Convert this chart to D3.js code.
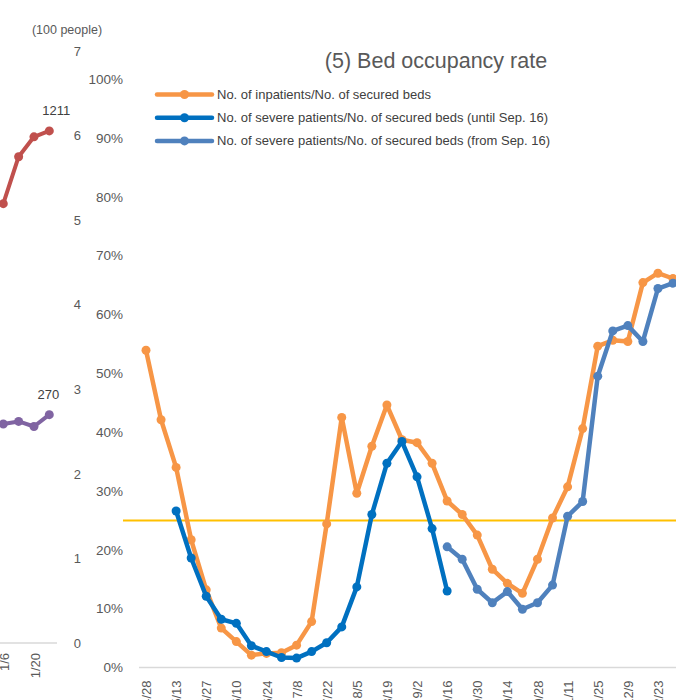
<!DOCTYPE html>
<html>
<head>
<meta charset="utf-8">
<script src="https://cdn.jsdelivr.net/npm/d3@7"></script>
<style>
  body { margin: 0; background: #fff; }
  svg { display: block; font-family: "Liberation Sans", Arial, sans-serif; }
</style>
</head>
<body>
<div id="chart"></div>
<script>
// left (cut off) chart: last weeks only
var leftWeeks = ["1/6", "1/13", "1/20", "1/27"];
var leftTicks = ["1/6", "1/20"];
var redValues = [10.39, 11.5, 11.97, 12.11];   // hundreds of people, secondary axis 0-14
var purpleValues = [2.59, 2.62, 2.56, 2.70];   // hundreds of people, axis 0-7

// bed occupancy chart
var weeks = ["4/28", "5/6", "5/13", "5/20", "5/27", "6/3", "6/10", "6/17", "6/24", "7/1",
             "7/8", "7/15", "7/22", "7/29", "8/5", "8/12", "8/19", "8/26", "9/2", "9/9",
             "9/16", "9/23", "9/30", "10/7", "10/14", "10/21", "10/28", "11/4", "11/11", "11/18",
             "11/25", "12/2", "12/9", "12/16", "12/23", "12/30"];
var tickWeeks = weeks.filter(function(d, i) { return i % 2 === 0; });

var inpatients = [53.9, 42.1, 34.0, 21.7, 13.2, 6.7, 4.4, 2.1, 2.4, 2.5,
                  3.8, 7.8, 24.4, 42.5, 29.6, 37.6, 44.6, 38.7, 38.2, 34.7,
                  28.3, 26.0, 22.5, 16.7, 14.3, 12.6, 18.4, 25.4, 30.7, 40.6,
                  54.6, 55.6, 55.4, 65.4, 67.0, 66.1];
var severeOld = [null, null, 26.6, 18.6, 12.1, 8.2, 7.5, 3.7, 2.7, 1.7,
                 1.6, 2.7, 4.2, 6.9, 13.7, 26.0, 34.7, 38.4, 32.4, 23.6,
                 13.0];
var severeNew = [{i: 20, v: 20.5}, {i: 21, v: 18.4}, {i: 22, v: 13.3}, {i: 23, v: 11.0},
                 {i: 24, v: 12.9}, {i: 25, v: 9.9}, {i: 26, v: 11.0}, {i: 27, v: 14.0},
                 {i: 28, v: 25.7}, {i: 29, v: 28.2}, {i: 30, v: 49.5}, {i: 31, v: 57.2},
                 {i: 32, v: 58.1}, {i: 33, v: 55.4}, {i: 34, v: 64.4}, {i: 35, v: 65.3}];
var yTicks = [0, 10, 20, 30, 40, 50, 60, 70, 80, 90, 100];
var threshold = 25;

var seriesNames = ["No. of inpatients/No. of secured beds",
                   "No. of severe patients/No. of secured beds (until Sep. 16)",
                   "No. of severe patients/No. of secured beds (from Sep. 16)"];
var seriesColors = ["#F79646", "#0070C0", "#4F81BD"];

var W = 676, H = 700;
var svg = d3.select("#chart").append("svg")
    .attr("width", W)
    .attr("height", H);

// ---------- left chart ----------
var xL = d3.scalePoint().domain(leftWeeks).range([3.3, 49.3]);
var yL = d3.scaleLinear().domain([0, 7]).range([643, 51]);
var yL2 = d3.scaleLinear().domain([0, 14]).range([643, 51]);

svg.append("line")
    .attr("x1", 0).attr("x2", 57)
    .attr("y1", yL(0)).attr("y2", yL(0))
    .attr("stroke", "#d9d9d9").attr("stroke-width", 1.5);

svg.selectAll(".lt")
    .data(leftTicks)
  .enter().append("text")
    .attr("transform", function(d) { return "translate(" + (xL(d) + 1.5) + "," + (yL(0) + 10) + ") rotate(-90)"; })
    .attr("text-anchor", "end")
    .attr("dy", "0.35em")
    .attr("font-size", 13)
    .attr("fill", "#595959")
    .text(function(d) { return d; });

var gLeftAxis = svg.append("g")
    .attr("transform", "translate(81,0)")
    .call(d3.axisLeft(yL).ticks(7).tickSize(0).tickPadding(0));
gLeftAxis.select(".domain").remove();
gLeftAxis.selectAll("text")
    .attr("font-size", 13)
    .attr("font-family", "Liberation Sans, Arial, sans-serif")
    .attr("fill", "#595959");

svg.append("text")
    .attr("x", 67).attr("y", 34)
    .attr("text-anchor", "middle")
    .attr("font-size", 12.5)
    .attr("fill", "#595959")
    .text("(100 people)");

function drawLeftSeries(values, scale, color, label, dx) {
  var line = d3.line()
      .x(function(d, i) { return xL(leftWeeks[i]); })
      .y(function(d) { return scale(d); });
  svg.append("path")
      .datum(values)
      .attr("d", line)
      .attr("fill", "none")
      .attr("stroke", color)
      .attr("stroke-width", 4)
      .attr("stroke-linejoin", "round");
  svg.selectAll(null)
      .data(values)
    .enter().append("circle")
      .attr("cx", function(d, i) { return xL(leftWeeks[i]); })
      .attr("cy", function(d) { return scale(d); })
      .attr("r", 4.5)
      .attr("fill", color);
  var last = values.length - 1;
  svg.append("text")
      .attr("x", xL(leftWeeks[last]) + dx)
      .attr("y", scale(values[last]) - 16)
      .attr("text-anchor", "middle")
      .attr("font-size", 13)
      .attr("fill", "#404040")
      .text(label);
}
drawLeftSeries(redValues, yL2, "#C0504D", "1211", 7);
drawLeftSeries(purpleValues, yL, "#8064A2", "270", -1);

// ---------- bed occupancy chart ----------
var x = d3.scalePoint().domain(weeks).range([146, 673]);
var y = d3.scaleLinear().domain([0, 100]).range([667.5, 79]);

var gy = svg.append("g")
    .attr("transform", "translate(126,0)")
    .call(d3.axisLeft(y).tickValues(yTicks).tickSize(0).tickPadding(3)
      .tickFormat(function(d) { return d + "%"; }));
gy.select(".domain").remove();
gy.selectAll("text")
    .attr("font-size", 13.5)
    .attr("font-family", "Liberation Sans, Arial, sans-serif")
    .attr("fill", "#595959");

svg.append("line")
    .attr("x1", 139).attr("x2", W)
    .attr("y1", y(0)).attr("y2", y(0))
    .attr("stroke", "#d9d9d9").attr("stroke-width", 1.5);

var gx = svg.append("g")
    .attr("transform", "translate(0," + y(0) + ")")
    .call(d3.axisBottom(x).tickValues(tickWeeks).tickSize(0));
gx.select(".domain").remove();
gx.selectAll("text")
    .attr("transform", "rotate(-90)")
    .attr("text-anchor", "end")
    .attr("x", -13)
    .attr("y", 0)
    .attr("dy", "0.35em")
    .attr("font-size", 13)
    .attr("font-family", "Liberation Sans, Arial, sans-serif")
    .attr("fill", "#595959");

// 25% reference line
svg.append("line")
    .attr("x1", 123).attr("x2", W)
    .attr("y1", y(threshold)).attr("y2", y(threshold))
    .attr("stroke", "#FFC000").attr("stroke-width", 2);

function drawSeries(points, color) {
  var line = d3.line()
      .x(function(d) { return x(weeks[d.i]); })
      .y(function(d) { return y(d.v); });
  svg.append("path")
      .datum(points)
      .attr("d", line)
      .attr("fill", "none")
      .attr("stroke", color)
      .attr("stroke-width", 4.5)
      .attr("stroke-linejoin", "round");
  svg.selectAll(null)
      .data(points)
    .enter().append("circle")
      .attr("cx", function(d) { return x(weeks[d.i]); })
      .attr("cy", function(d) { return y(d.v); })
      .attr("r", 4.5)
      .attr("fill", color);
}

function toPoints(values) {
  var pts = [];
  values.forEach(function(v, i) { if (v !== null) pts.push({i: i, v: v}); });
  return pts;
}

drawSeries(toPoints(inpatients), seriesColors[0]);
drawSeries(toPoints(severeOld), seriesColors[1]);
drawSeries(severeNew, seriesColors[2]);

// title
svg.append("text")
    .attr("x", 436).attr("y", 68)
    .attr("text-anchor", "middle")
    .attr("font-size", 21.5)
    .attr("fill", "#595959")
    .text("(5) Bed occupancy rate");

// legend
var legend = svg.selectAll(".legend")
    .data(seriesNames)
  .enter().append("g")
    .attr("transform", function(d, i) { return "translate(157," + (94.5 + i * 23.2) + ")"; });
legend.append("line")
    .attr("x1", 0).attr("x2", 55)
    .attr("stroke", function(d, i) { return seriesColors[i]; })
    .attr("stroke-width", 4.5)
    .attr("stroke-linecap", "round");
legend.append("circle")
    .attr("cx", 27.5)
    .attr("r", 4.5)
    .attr("fill", function(d, i) { return seriesColors[i]; });
legend.append("text")
    .attr("x", 60)
    .attr("dy", "0.35em")
    .attr("font-size", 13)
    .attr("fill", "#404040")
    .text(function(d) { return d; });
</script>
</body>
</html>
